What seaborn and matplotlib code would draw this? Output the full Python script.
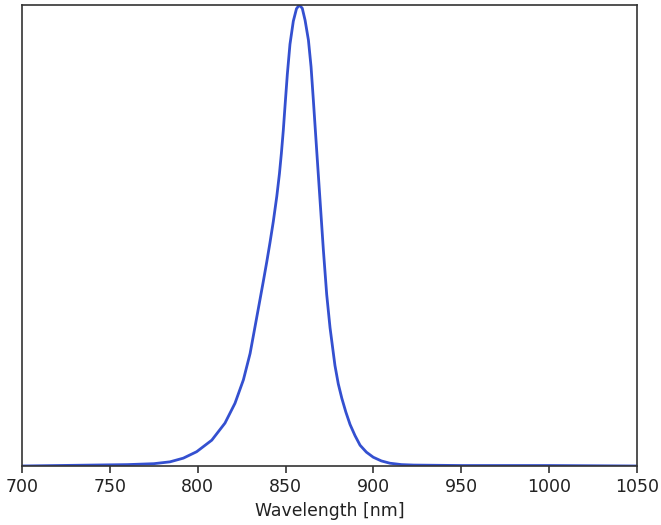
"""
Emission spectrum (normalised) - 700~1050 nm
"""

import pandas as pd
import matplotlib
matplotlib.use("Agg")
import matplotlib.pyplot as plt
import seaborn as sns

# ── 1. values ──────────────────────────────────────────
wavelength = [700, 720, 740, 760, 775, 784.2, 791.8, 799.4, 808.0, 815.5,
              821.2, 826.0, 829.8, 832.6, 835.1, 837.3, 839.3, 841.1, 843.0,
              845.0, 846.5, 847.6, 848.7, 849.7, 851.0, 852.5, 854.4, 856.2,
              857.8, 859.5, 861.1, 863.0, 864.5, 865.8, 867.7, 869.6, 871.5,
              873.4, 875.3, 878.1, 880.0, 882.0, 884.3, 886.7, 889.5, 892.4,
              896.0, 899.9, 904.5, 909.4, 916, 923, 950, 1000, 1050]
intensity = [0.000, 0.001, 0.002, 0.003, 0.005, 0.009, 0.017, 0.031, 0.056,
             0.093, 0.136, 0.187, 0.244, 0.302, 0.354, 0.400, 0.443, 0.484,
             0.530, 0.585, 0.634, 0.678, 0.728, 0.782, 0.850, 0.915, 0.965,
             0.992, 1.000, 0.993, 0.967, 0.924, 0.866, 0.794, 0.685, 0.577,
             0.469, 0.372, 0.300, 0.218, 0.178, 0.147, 0.117, 0.090, 0.066,
             0.045, 0.030, 0.019, 0.011, 0.006, 0.003, 0.002, 0.001, 0.001,
             0.000]
x_ticks = [700, 750, 800, 850, 900, 950, 1000, 1050]

df = pd.DataFrame({"wavelength": wavelength, "intensity": intensity})

# ── 2. plot ────────────────────────────────────────────
sns.set_style("ticks")
plt.rcParams["font.family"] = ["DejaVu Sans"]

fig = plt.figure(figsize=(6.61, 5.25), dpi=100)
ax = fig.add_axes([0.0333, 0.1124, 0.9304, 0.878])

sns.lineplot(data=df, x="wavelength", y="intensity", ax=ax,
             color="#3450d0", linewidth=2.0)

ax.set_xlim(700, 1050)
ax.set_ylim(0, 1.0)
ax.set_xticks(x_ticks)
ax.set_yticks([])
ax.set_xlabel("Wavelength [nm]", fontsize=12.4, color="#222222")
ax.set_ylabel("")
ax.tick_params(axis="x", labelsize=12.5, length=5, width=1.1,
               colors="#222222", pad=4)
for s in ax.spines.values():
    s.set_color("#333333")
    s.set_linewidth(1.2)

fig.savefig("out.png", dpi=100)
